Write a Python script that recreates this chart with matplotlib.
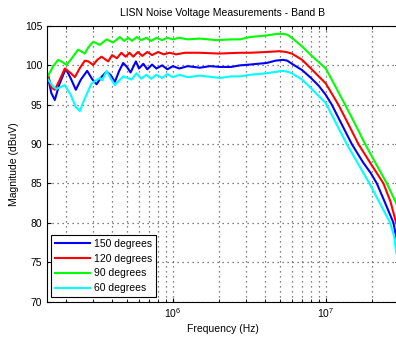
import numpy as np
import matplotlib
matplotlib.use("Agg")
import matplotlib.pyplot as plt
from matplotlib.ticker import LogLocator, NullFormatter

plt.rcParams['font.family'] = ['Liberation Sans', 'DejaVu Sans']

# frequencies in MHz, magnitudes in dBuV
f_150 = [0.150, 0.1525, 0.160, 0.1687, 0.180, 0.1962, 0.2013, 0.215, 0.2316, 0.250,
         0.2747, 0.295, 0.3165, 0.340, 0.368, 0.390, 0.417, 0.445, 0.4726, 0.500,
         0.5284, 0.5724, 0.600, 0.64, 0.68, 0.73, 0.78, 0.85, 0.92, 1.0,
         1.1, 1.25, 1.5, 1.75, 2.03, 2.4, 2.75, 3.19, 3.6, 4.1,
         4.7, 5.25, 5.6, 6.0, 7.0, 8.0, 9.0, 10.0, 10.95, 12.5,
         14.8, 17.5, 19.71, 21.58, 24.0, 27.72, 28.87, 30.0]
m_150 = [98.9, 98.4, 96.5, 95.6, 97.5, 99.3, 99.4, 98.3, 96.9, 98.2,
         99.3, 98.3, 97.6, 98.5, 99.2, 98.8, 97.9, 99.3, 100.3, 99.8,
         99.1, 100.5, 99.6, 100.2, 99.5, 100.1, 99.6, 100.0, 99.5, 99.9,
         99.6, 99.9, 99.7, 99.9, 99.8, 99.8, 100.0, 100.1, 100.2, 100.3,
         100.6, 100.7, 100.6, 100.2, 99.4, 98.4, 97.4, 96.25, 95.0, 92.8,
         90.0, 87.7, 86.3, 85.0, 82.9, 80.0, 78.2, 77.0]

f_120 = [0.150, 0.1525, 0.160, 0.1687, 0.180, 0.1962, 0.215, 0.2281, 0.245, 0.2653,
         0.280, 0.3007, 0.320, 0.3412, 0.3770, 0.40, 0.43, 0.46, 0.49, 0.52,
         0.55, 0.59, 0.63, 0.68, 0.73, 0.80, 0.87, 0.95, 1.05, 1.2,
         1.5, 2.0, 2.75, 3.19, 4.1, 5.0, 5.5, 6.0, 7.0, 8.0,
         10.0, 12.09, 14.0, 16.35, 19.71, 23.84, 26.5, 28.87, 30.0]
m_120 = [98.9, 98.8, 97.2, 96.9, 98.0, 99.6, 99.0, 98.5, 99.6, 100.6,
         100.5, 100.05, 100.7, 101.1, 100.5, 101.3, 100.9, 101.6, 101.1, 101.6,
         101.1, 101.7, 101.2, 101.7, 101.3, 101.7, 101.4, 101.6, 101.4, 101.6,
         101.6, 101.5, 101.6, 101.6, 101.7, 101.8, 101.7, 101.5, 100.7, 99.6,
         97.7, 95.0, 92.6, 90.0, 87.5, 85.0, 82.7, 80.0, 79.0]

f_90 = [0.150, 0.1525, 0.165, 0.1774, 0.190, 0.2013, 0.220, 0.2398, 0.2653, 0.280,
        0.3007, 0.3324, 0.368, 0.4064, 0.4496, 0.48, 0.51, 0.54, 0.58, 0.62,
        0.67, 0.72, 0.78, 0.85, 0.92, 1.0, 1.1, 1.25, 1.5, 1.93,
        2.4, 2.75, 3.19, 4.1, 4.78, 5.25, 5.6, 6.0, 7.0, 8.0,
        10.0, 11.5, 13.38, 15.5, 18.09, 21.0, 25.09, 28.87, 30.0]
m_90 = [98.5, 98.7, 99.9, 100.7, 100.4, 100.05, 101.0, 102.0, 101.5, 102.3,
        103.0, 102.6, 103.3, 102.9, 103.6, 103.1, 103.5, 103.1, 103.6, 103.2,
        103.5, 103.1, 103.5, 103.2, 103.5, 103.3, 103.5, 103.3, 103.4, 103.2,
        103.3, 103.3, 103.6, 103.8, 104.0, 104.0, 103.9, 103.5, 102.4, 101.3,
        99.6, 97.4, 95.0, 92.6, 90.0, 87.7, 85.0, 82.5, 81.5]

f_60 = [0.150, 0.1525, 0.1644, 0.1731, 0.1962, 0.215, 0.2316, 0.246, 0.265, 0.2935,
        0.3324, 0.345, 0.368, 0.39, 0.417, 0.4726, 0.5364, 0.5785, 0.62, 0.67,
        0.72, 0.78, 0.85, 0.92, 1.0, 1.1, 1.25, 1.5, 2.03, 2.4,
        2.75, 3.19, 4.1, 4.78, 5.25, 5.6, 6.0, 7.0, 8.0, 10.0,
        12.0, 13.72, 16.5, 19.3, 22.5, 26.37, 28.0, 28.87, 30.0]
m_60 = [98.4, 98.2, 97.3, 97.0, 97.5, 96.2, 94.7, 94.2, 95.8, 97.7,
        98.4, 98.1, 99.3, 98.4, 97.5, 98.6, 98.2, 99.0, 98.3, 98.8,
        98.3, 98.8, 98.4, 98.9, 98.5, 98.8, 98.5, 98.7, 98.4, 98.6,
        98.6, 98.8, 99.0, 99.2, 99.3, 99.2, 99.0, 98.2, 97.1, 95.2,
        92.2, 90.0, 87.3, 85.0, 82.55, 80.0, 78.3, 76.3, 75.0]

series = [(f_150, m_150, (0, 0, 1), '150 degrees'),
          (f_120, m_120, (1, 0, 0), '120 degrees'),
          (f_90, m_90, (0, 1, 0), '90 degrees'),
          (f_60, m_60, (0, 1, 1), '60 degrees')]

fig = plt.figure(figsize=(3.96, 3.37), dpi=100)
ax = fig.add_axes([47 / 396, 35.5 / 337, 351.7 / 396, 275.5 / 337])

for f, m, c, lab in series:
    ax.semilogx(np.array(f) * 1e6, m, color=c, linewidth=1.5, label=lab)

ax.set_xlim(1.5e5, 3e7)
ax.set_ylim(70, 105)
ax.set_yticks(np.arange(70, 106, 5))
ax.xaxis.set_major_locator(LogLocator(base=10))
ax.xaxis.set_minor_locator(LogLocator(base=10, subs=np.arange(2, 10)))
ax.xaxis.set_minor_formatter(NullFormatter())

# matlab-ish sparse dotted grid
ax.grid(True, which='major', linestyle=(0, (1, 3)), color='0.35', linewidth=0.9)
ax.grid(True, which='minor', axis='x', linestyle=(0, (1, 3)), color='0.35', linewidth=0.9)
ax.tick_params(which='both', direction='in', top=True, right=True, labelsize=7.5)
ax.tick_params(which='major', length=3)
ax.tick_params(which='minor', length=2)
for s in ax.spines.values():
    s.set_linewidth(0.8)

ax.set_title('LISN Noise Voltage Measurements - Band B', fontsize=7.5, pad=7)
ax.set_xlabel('Frequency (Hz)', fontsize=7.5, labelpad=3)
ax.set_ylabel('Magnitude (dBuV)', fontsize=7.5)

leg = ax.legend(loc='lower left', fontsize=7.5, handlelength=3.3, fancybox=False,
                edgecolor='black', framealpha=1, borderaxespad=0.4,
                labelspacing=0.45, handletextpad=0.4, borderpad=0.4)
leg.get_frame().set_linewidth(0.8)

fig.savefig('out.png', dpi=100)
